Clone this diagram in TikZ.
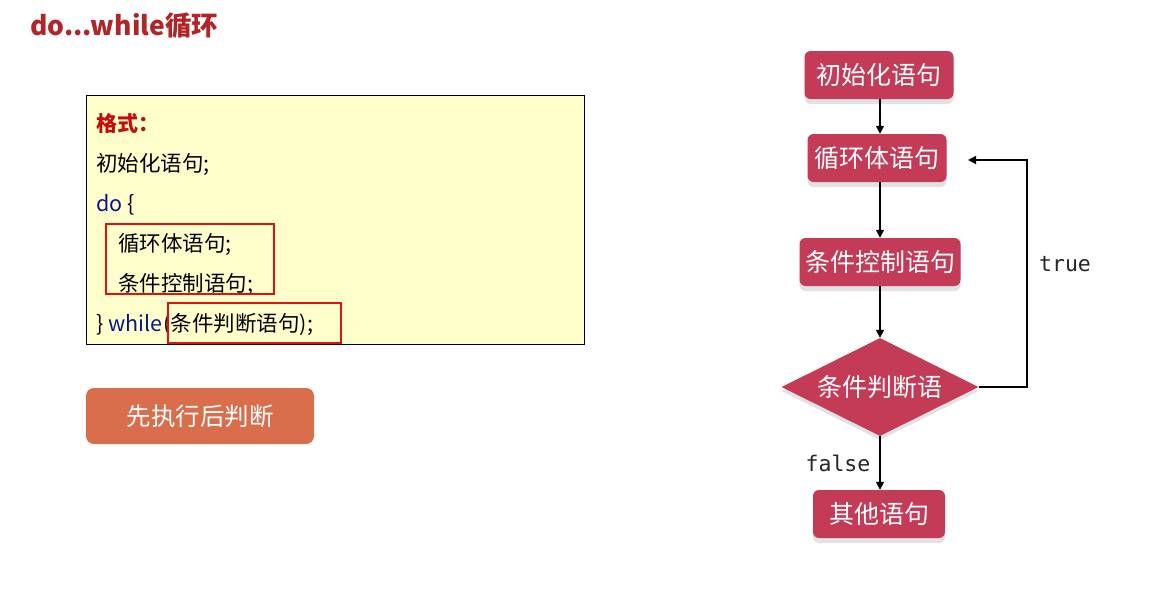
\documentclass[tikz,border=0pt]{standalone}
\usepackage{fontspec}
\setmainfont{Noto Sans CJK SC}
\newfontfamily\monof{DejaVu Sans Mono}
\usetikzlibrary{shapes.geometric,shadows,arrows.meta}
\definecolor{titlered}{RGB}{178,36,40}
\definecolor{boxyellow}{RGB}{255,255,204}
\definecolor{kwblue}{RGB}{10,20,140}
\definecolor{hlred}{RGB}{226,16,16}
\definecolor{fmtred}{RGB}{200,10,10}
\definecolor{btnorange}{RGB}{216,110,76}
\definecolor{nodered}{RGB}{196,59,88}
\definecolor{shadowgray}{RGB}{226,226,226}
\tikzset{
  codeline/.style={anchor=base west, inner sep=0pt, font=\fontsize{21.5}{26}\selectfont},
  flownode/.style={rectangle, rounded corners=6pt, fill=nodered, text=white, inner sep=0pt,
    minimum height=48pt, font=\fontsize{25}{28}\selectfont,
    drop shadow={shadow xshift=0pt, shadow yshift=-5pt, fill=shadowgray, opacity=1}},
  decision/.style={diamond, fill=nodered, inner sep=0pt, minimum width=197pt, minimum height=98pt,
    drop shadow={shadow xshift=0pt, shadow yshift=-4pt, fill=shadowgray, opacity=1}},
  arr/.style={line width=1.6pt, -{Triangle[length=8pt,width=8pt]}},
  hlbox/.style={draw=hlred, line width=2.2pt},
  monolabel/.style={font=\monof\fontsize{21.5}{24}\selectfont, text=black!85, inner sep=0pt}
}
\begin{document}
\begin{tikzpicture}[x=1pt,y=-1pt]
\useasboundingbox (0,0) rectangle (1156,606);
\fill[white] (0,0) rectangle (1156,606);

% title
\node[anchor=west, inner sep=0pt, text=titlered, font=\bfseries\fontsize{26.5}{30}\selectfont] (title) at (30,26) {do...while循环};

% code box
\draw[fill=boxyellow, line width=0.8pt] (86,95) rectangle (584,344);
\node[codeline, text=fmtred, font=\bfseries\fontsize{21}{24}\selectfont] (l1) at (96,131) {格式：};
\node[codeline] (l2) at (96,171) {初始化语句;};
\node[codeline] (l3) at (96,211) {\textcolor{kwblue}{do} \{};
\node[codeline] (l4) at (118,251) {循环体语句;};
\node[codeline] (l5) at (118,291) {条件控制语句;};
\node[codeline] (l6) at (96,331) {\} \textcolor{kwblue}{while}\hspace{1pt}(条件判断语句);};
\draw[hlbox] (106,224) rectangle (274,294);
\draw[hlbox] (168,303) rectangle (341,343);

% orange button
\node[rectangle, rounded corners=8pt, fill=btnorange, text=white, inner sep=0pt,
  minimum width=228pt, minimum height=56pt, font=\fontsize{24.5}{28}\selectfont] (btn) at (200,416) {先执行后判断};

% flowchart
\node[flownode, minimum width=149pt] (init) at (879,75) {初始化语句};
\node[flownode, minimum width=139pt] (body) at (877,158) {循环体语句};
\node[flownode, minimum width=161pt] (ctrl) at (880,262) {条件控制语句};
\node[decision] (cond) at (880,387) {};
\node[text=white, inner sep=0pt, font=\fontsize{25}{28}\selectfont] (condtext) at (cond.center) {条件判断语};
\node[flownode, minimum width=132pt] (other) at (879,514) {其他语句};

\draw[arr] (init.south -| 880,0) -- (body.north -| 880,0);
\draw[arr] (body.south -| 880,0) -- (ctrl.north -| 880,0);
\draw[arr] (ctrl.south -| 880,0) -- (cond.north);
\draw[arr] (cond.south) -- (other.north -| 880,0);
\coordinate (loopend) at (968,160);
\draw[arr] (cond.east) -- (1027,387) |- (loopend);

\node[monolabel] (truelbl) at (1065,264) {true};
\node[monolabel] (falselbl) at (838,463) {false};
\end{tikzpicture}
\end{document}
